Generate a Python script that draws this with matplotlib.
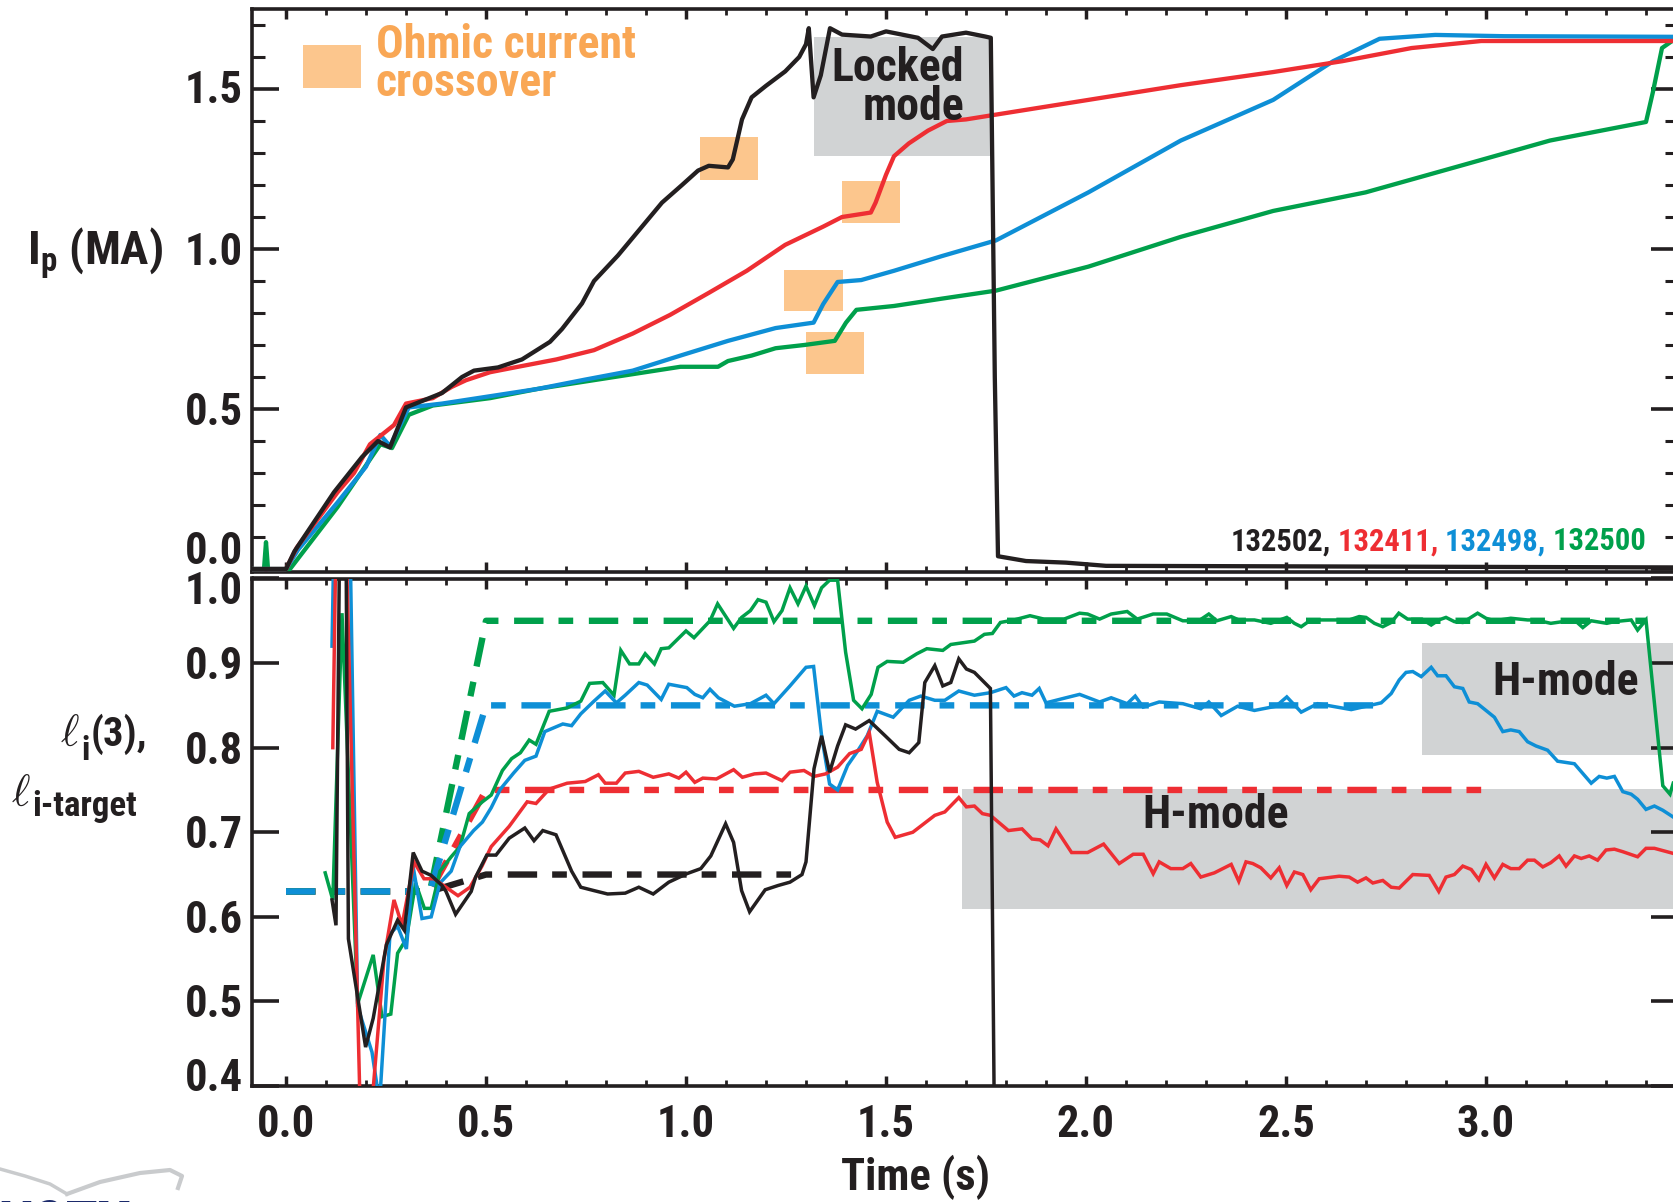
import matplotlib
matplotlib.use("Agg")
import matplotlib.pyplot as plt
import matplotlib.transforms as mtransforms
from matplotlib import font_manager as fm
from matplotlib.patches import Rectangle
from matplotlib.ticker import MultipleLocator, FixedLocator

# ---------------------------------------------------------------- fonts
# Prefer a bold condensed sans face for the whole figure.
CONDENSED = {"condensed", "semi-condensed", "extra-condensed", "ultra-condensed"}


def _weight(f):
    w = f.weight
    if isinstance(w, str):
        w = fm.weight_dict.get(w, 400)
    return w


def pick_condensed():
    cands = [f for f in fm.fontManager.ttflist
             if _weight(f) >= 600 and f.style == "normal"
             and (f.stretch in CONDENSED or "Narrow" in f.name or "Condensed" in f.name)]
    order = ["Liberation Sans Narrow", "Roboto Condensed", "Open Sans Condensed",
             "Noto Sans Condensed", "Noto Sans", "Open Sans", "Roboto", "DejaVu Sans",
             "Inter", "Lato"]
    for name in order:
        for f in cands:
            if f.name == name:
                return f.name, (f.stretch if f.stretch in CONDENSED else "condensed")
    if cands:
        f = cands[0]
        return f.name, (f.stretch if f.stretch in CONDENSED else "condensed")
    return "Liberation Sans", "normal"


BASE, STRETCH = pick_condensed()
plt.rcParams["font.family"] = [BASE, "DejaVu Sans"]
plt.rcParams["font.stretch"] = STRETCH
plt.rcParams["font.weight"] = "bold"
plt.rcParams["mathtext.fontset"] = "custom"
plt.rcParams["mathtext.rm"] = f"{BASE}:weight=bold:stretch={STRETCH}"
plt.rcParams["mathtext.bf"] = f"{BASE}:weight=bold:stretch={STRETCH}"
plt.rcParams["mathtext.it"] = f"{BASE}:style=italic:stretch={STRETCH}"
plt.rcParams["mathtext.fallback"] = "cm"

# ---------------------------------------------------------------- colours
C_BLACK = "#231F20"
C_RED = "#EE2E33"
C_BLUE = "#0E8FD6"
C_GREEN = "#00A04B"
C_ORANGE_TXT = "#F9A755"
C_ORANGE_BOX = "#FCC68D"
C_GRAY_BOX = "#D1D3D4"

# ---------------------------------------------------------------- data
shots = ["132502", "132411", "132498", "132500"]
shot_colors = [C_BLACK, C_RED, C_BLUE, C_GREEN]

# Plasma current Ip (MA) vs time (s)
ip_t_132502 = [-0.085, 0.0, 0.021, 0.045, 0.12, 0.19, 0.23, 0.26, 0.30, 0.33, 0.39, 0.44,
               0.47, 0.53, 0.59, 0.66, 0.69, 0.74, 0.77, 0.83, 0.89, 0.94, 0.99, 1.03,
               1.057, 1.105, 1.117, 1.14, 1.164, 1.20, 1.248, 1.283, 1.30, 1.307, 1.319,
               1.337, 1.36, 1.39, 1.462, 1.50, 1.58, 1.617, 1.64, 1.70, 1.748, 1.762,
               1.772, 1.78, 1.85, 1.95, 2.05, 3.48]
ip_v_132502 = [0.0, 0.0, 0.055, 0.10, 0.24, 0.35, 0.40, 0.38, 0.505, 0.52, 0.55, 0.60,
               0.62, 0.63, 0.655, 0.71, 0.75, 0.83, 0.90, 0.98, 1.07, 1.145, 1.20, 1.245,
               1.26, 1.255, 1.28, 1.405, 1.474, 1.51, 1.555, 1.60, 1.64, 1.69, 1.474,
               1.543, 1.69, 1.67, 1.664, 1.68, 1.66, 1.625, 1.664, 1.676, 1.664, 1.66,
               0.60, 0.04, 0.025, 0.02, 0.01, 0.005]

ip_t_132411 = [-0.085, 0.0, 0.027, 0.129, 0.17, 0.21, 0.27, 0.30, 0.367, 0.414, 0.45,
               0.51, 0.58, 0.676, 0.77, 0.867, 0.96, 1.057, 1.152, 1.248, 1.343, 1.39,
               1.462, 1.474, 1.50, 1.52, 1.557, 1.605, 1.652, 1.70, 1.775, 2.006, 2.237,
               2.468, 2.641, 2.814, 2.988, 3.16, 3.48]
ip_v_132411 = [0.0, 0.0, 0.067, 0.24, 0.30, 0.39, 0.45, 0.517, 0.534, 0.569, 0.59,
               0.615, 0.632, 0.655, 0.684, 0.736, 0.794, 0.863, 0.932, 1.013, 1.07, 1.10,
               1.114, 1.145, 1.232, 1.29, 1.33, 1.37, 1.40, 1.405, 1.42, 1.466, 1.512,
               1.553, 1.587, 1.628, 1.65, 1.65, 1.65]

ip_t_132498 = [-0.085, 0.0, 0.03, 0.13, 0.20, 0.236, 0.26, 0.307, 0.39, 0.51, 0.63,
               0.748, 0.867, 0.986, 1.105, 1.224, 1.319, 1.343, 1.379, 1.438, 1.52, 1.64,
               1.775, 2.006, 2.237, 2.468, 2.618, 2.734, 2.873, 3.046, 3.48]
ip_v_132498 = [0.0, 0.0, 0.06, 0.21, 0.32, 0.419, 0.384, 0.505, 0.517, 0.54, 0.563,
               0.592, 0.62, 0.667, 0.713, 0.753, 0.77, 0.828, 0.897, 0.903, 0.932, 0.978,
               1.027, 1.177, 1.339, 1.466, 1.587, 1.657, 1.669, 1.665, 1.663]

ip_t_132500 = [-0.085, -0.055, -0.05, -0.045, 0.0, 0.01, 0.129, 0.236, 0.265, 0.307,
               0.367, 0.51, 0.63, 0.748, 0.867, 0.986, 1.08, 1.105, 1.164, 1.224, 1.295,
               1.372, 1.40, 1.426, 1.52, 1.64, 1.775, 2.006, 2.237, 2.468, 2.699, 2.93,
               3.16, 3.40, 3.417, 3.44, 3.48]
ip_v_132500 = [0.0, 0.0, 0.084, 0.0, 0.0, 0.0, 0.194, 0.39, 0.378, 0.482, 0.511, 0.534,
               0.563, 0.586, 0.609, 0.632, 0.632, 0.65, 0.667, 0.69, 0.70, 0.713, 0.77,
               0.81, 0.822, 0.845, 0.87, 0.945, 1.038, 1.119, 1.177, 1.258, 1.339, 1.397,
               1.489, 1.628, 1.663]

# Internal inductance li(3) vs time (s)
li_t_132502 = [0.115, 0.125, 0.134, 0.15, 0.156, 0.199, 0.218, 0.251, 0.279, 0.296, 0.318,
               0.34, 0.363, 0.39, 0.40, 0.424, 0.463, 0.474, 0.502, 0.525, 0.558, 0.597,
               0.62, 0.642, 0.675, 0.714, 0.737, 0.77, 0.804, 0.848, 0.882, 0.918, 0.957,
               1.002, 1.037, 1.062, 1.099, 1.119, 1.139, 1.159, 1.198, 1.23, 1.26, 1.29,
               1.30, 1.32, 1.339, 1.359, 1.379, 1.399, 1.424, 1.458, 1.498, 1.533, 1.558,
               1.582, 1.597, 1.622, 1.642, 1.662, 1.682, 1.701, 1.721, 1.761, 1.772]
li_v_132502 = [0.62, 0.59, 1.05, 1.05, 0.574, 0.446, 0.48, 0.567, 0.596, 0.584, 0.676,
               0.654, 0.649, 0.637, 0.63, 0.603, 0.63, 0.647, 0.673, 0.673, 0.693, 0.705,
               0.69, 0.702, 0.697, 0.654, 0.635, 0.631, 0.627, 0.628, 0.635, 0.627, 0.641,
               0.651, 0.657, 0.672, 0.71, 0.688, 0.631, 0.606, 0.632, 0.637, 0.641, 0.65,
               0.665, 0.775, 0.814, 0.771, 0.802, 0.827, 0.822, 0.832, 0.814, 0.798, 0.794,
               0.806, 0.877, 0.897, 0.873, 0.877, 0.905, 0.893, 0.889, 0.87, 0.30]

li_t_132411 = [0.117, 0.125, 0.15, 0.185, 0.215, 0.245, 0.27, 0.29, 0.32, 0.345, 0.37, 0.40,
               0.43, 0.46, 0.49, 0.513, 0.558, 0.603, 0.625, 0.658, 0.703, 0.748, 0.781,
               0.798, 0.826, 0.848, 0.882, 0.918, 0.957, 0.982, 1.0, 1.022, 1.042, 1.076,
               1.119, 1.141, 1.171, 1.20, 1.24, 1.26, 1.295, 1.32, 1.349, 1.379, 1.409,
               1.438, 1.458, 1.478, 1.503, 1.523, 1.567, 1.622, 1.647, 1.682, 1.701, 1.721,
               1.741, 1.761, 1.806, 1.84, 1.865, 1.885, 1.905, 1.925, 1.964, 2.004, 2.044,
               2.083, 2.118, 2.143, 2.168, 2.183, 2.212, 2.242, 2.262, 2.287, 2.321, 2.363,
               2.382, 2.40, 2.417, 2.437, 2.462, 2.483, 2.502, 2.521, 2.542, 2.562, 2.583,
               2.633, 2.658, 2.679, 2.70, 2.717, 2.742, 2.763, 2.783, 2.817, 2.858, 2.882,
               2.90, 2.921, 2.942, 2.963, 2.982, 3.0, 3.021, 3.042, 3.062, 3.083, 3.104,
               3.121, 3.142, 3.162, 3.183, 3.20, 3.221, 3.238, 3.258, 3.279, 3.30, 3.321,
               3.342, 3.379, 3.40, 3.421, 3.468]
li_v_132411 = [0.80, 1.05, 1.05, 0.38, 0.38, 0.55, 0.62, 0.59, 0.665, 0.645, 0.645, 0.635,
               0.625, 0.635, 0.66, 0.683, 0.707, 0.736, 0.734, 0.751, 0.758, 0.76, 0.768,
               0.758, 0.758, 0.77, 0.772, 0.765, 0.769, 0.764, 0.771, 0.759, 0.764, 0.763,
               0.774, 0.765, 0.769, 0.77, 0.761, 0.771, 0.773, 0.766, 0.769, 0.777, 0.793,
               0.798, 0.818, 0.759, 0.712, 0.694, 0.70, 0.72, 0.724, 0.741, 0.73, 0.731,
               0.722, 0.72, 0.702, 0.704, 0.692, 0.691, 0.684, 0.704, 0.676, 0.676, 0.686,
               0.663, 0.674, 0.674, 0.651, 0.665, 0.657, 0.657, 0.663, 0.647, 0.652, 0.662,
               0.642, 0.665, 0.663, 0.658, 0.646, 0.658, 0.637, 0.653, 0.65, 0.632, 0.645,
               0.648, 0.647, 0.641, 0.646, 0.64, 0.643, 0.635, 0.634, 0.65, 0.649, 0.630,
               0.647, 0.65, 0.66, 0.656, 0.644, 0.662, 0.646, 0.662, 0.657, 0.657, 0.667,
               0.667, 0.659, 0.664, 0.672, 0.66, 0.672, 0.669, 0.672, 0.667, 0.679, 0.68,
               0.677, 0.671, 0.681, 0.681, 0.675]

li_t_132498 = [0.115, 0.12, 0.16, 0.179, 0.215, 0.234, 0.26, 0.279, 0.301, 0.318, 0.34,
               0.363, 0.385, 0.413, 0.435, 0.469, 0.491, 0.513, 0.536, 0.569, 0.597, 0.625,
               0.647, 0.692, 0.714, 0.737, 0.77, 0.798, 0.826, 0.848, 0.882, 0.903, 0.938,
               0.957, 1.002, 1.022, 1.042, 1.06, 1.081, 1.121, 1.161, 1.20, 1.22, 1.26,
               1.30, 1.319, 1.339, 1.359, 1.379, 1.404, 1.429, 1.453, 1.478, 1.518, 1.558,
               1.587, 1.622, 1.647, 1.682, 1.721, 1.761, 1.80, 1.82, 1.84, 1.865, 1.883,
               1.90, 1.95, 1.984, 2.034, 2.063, 2.103, 2.123, 2.143, 2.183, 2.242, 2.287,
               2.307, 2.338, 2.379, 2.421, 2.475, 2.502, 2.538, 2.579, 2.663, 2.738, 2.763,
               2.783, 2.80, 2.817, 2.838, 2.863, 2.879, 2.90, 2.921, 2.942, 2.958, 2.979,
               3.021, 3.042, 3.062, 3.083, 3.104, 3.125, 3.154, 3.179, 3.221, 3.263, 3.283,
               3.302, 3.321, 3.342, 3.363, 3.379, 3.40, 3.421, 3.442, 3.468]
li_v_132498 = [0.92, 1.05, 1.05, 0.494, 0.44, 0.38, 0.58, 0.589, 0.562, 0.659, 0.598,
               0.60, 0.64, 0.654, 0.683, 0.702, 0.712, 0.729, 0.751, 0.77, 0.785, 0.79,
               0.819, 0.828, 0.826, 0.84, 0.855, 0.867, 0.853, 0.862, 0.877, 0.874, 0.857,
               0.875, 0.871, 0.863, 0.859, 0.869, 0.859, 0.849, 0.852, 0.862, 0.852, 0.873,
               0.895, 0.896, 0.814, 0.757, 0.75, 0.779, 0.796, 0.814, 0.843, 0.836, 0.856,
               0.861, 0.856, 0.856, 0.867, 0.862, 0.865, 0.871, 0.861, 0.865, 0.862, 0.87,
               0.853, 0.859, 0.863, 0.854, 0.859, 0.852, 0.861, 0.848, 0.854, 0.852, 0.846,
               0.854, 0.838, 0.849, 0.844, 0.849, 0.86, 0.842, 0.852, 0.845, 0.853, 0.864,
               0.88, 0.889, 0.89, 0.884, 0.895, 0.885, 0.885, 0.872, 0.87, 0.854, 0.852,
               0.836, 0.819, 0.821, 0.819, 0.807, 0.802, 0.797, 0.784, 0.781, 0.758, 0.766,
               0.764, 0.766, 0.748, 0.745, 0.739, 0.727, 0.731, 0.726, 0.718]

li_t_132500 = [0.098, 0.117, 0.14, 0.179, 0.218, 0.24, 0.262, 0.279, 0.301, 0.324, 0.346,
               0.363, 0.385, 0.413, 0.435, 0.458, 0.491, 0.513, 0.541, 0.564, 0.586, 0.608,
               0.625, 0.658, 0.703, 0.737, 0.759, 0.792, 0.82, 0.837, 0.859, 0.882, 0.898,
               0.921, 0.938, 0.957, 1.0, 1.02, 1.06, 1.079, 1.119, 1.139, 1.161, 1.18,
               1.20, 1.22, 1.24, 1.26, 1.28, 1.30, 1.321, 1.339, 1.359, 1.379, 1.399, 1.419,
               1.44, 1.463, 1.48, 1.503, 1.543, 1.577, 1.602, 1.642, 1.662, 1.721, 1.746,
               1.766, 1.786, 1.82, 1.86, 1.895, 1.945, 1.984, 2.004, 2.034, 2.063, 2.103,
               2.128, 2.168, 2.202, 2.242, 2.282, 2.307, 2.327, 2.363, 2.382, 2.421, 2.462,
               2.502, 2.521, 2.538, 2.562, 2.617, 2.658, 2.683, 2.70, 2.721, 2.742, 2.763,
               2.782, 2.804, 2.84, 2.863, 2.882, 2.90, 2.921, 2.942, 2.979, 3.0, 3.021,
               3.062, 3.104, 3.125, 3.162, 3.221, 3.242, 3.263, 3.302, 3.321, 3.363, 3.379,
               3.40, 3.442, 3.46, 3.468]
li_v_132500 = [0.652, 0.62, 0.959, 0.497, 0.555, 0.482, 0.485, 0.557, 0.574, 0.64, 0.61,
               0.61, 0.654, 0.671, 0.683, 0.722, 0.736, 0.744, 0.773, 0.787, 0.794, 0.809,
               0.804, 0.843, 0.847, 0.855, 0.876, 0.877, 0.862, 0.915, 0.899, 0.899, 0.911,
               0.899, 0.917, 0.918, 0.938, 0.93, 0.95, 0.97, 0.941, 0.954, 0.962, 0.975,
               0.972, 0.949, 0.962, 0.989, 0.97, 0.991, 0.968, 0.989, 0.998, 0.998, 0.913,
               0.856, 0.846, 0.863, 0.895, 0.902, 0.901, 0.911, 0.917, 0.915, 0.922, 0.926,
               0.934, 0.935, 0.948, 0.951, 0.956, 0.952, 0.952, 0.959, 0.958, 0.952, 0.958,
               0.961, 0.952, 0.958, 0.958, 0.95, 0.95, 0.958, 0.95, 0.955, 0.951, 0.951,
               0.947, 0.954, 0.947, 0.943, 0.951, 0.951, 0.951, 0.955, 0.954, 0.947, 0.943,
               0.948, 0.959, 0.952, 0.952, 0.945, 0.951, 0.954, 0.949, 0.948, 0.959, 0.953,
               0.95, 0.953, 0.951, 0.951, 0.947, 0.951, 0.942, 0.95, 0.947, 0.949, 0.951,
               0.939, 0.951, 0.755, 0.745, 0.758]

# li target waveforms (dashed)
tgt_t_132502 = [0.0, 0.36, 0.50, 1.30]
tgt_v_132502 = [0.63, 0.63, 0.65, 0.65]
tgt_t_132411 = [0.0, 0.36, 0.50, 3.00]
tgt_v_132411 = [0.63, 0.63, 0.75, 0.75]
tgt_t_132498 = [0.0, 0.36, 0.50, 2.75]
tgt_v_132498 = [0.63, 0.63, 0.85, 0.85]
tgt_t_132500 = [0.0, 0.36, 0.50, 3.40]
tgt_v_132500 = [0.63, 0.63, 0.95, 0.95]

# Ohmic current crossover windows: (t0, t1, Ip0, Ip1)
crossover_boxes = [(1.036, 1.179, 1.217, 1.349),
                   (1.390, 1.536, 1.082, 1.212),
                   (1.246, 1.392, 0.805, 0.935),
                   (1.301, 1.446, 0.609, 0.742)]
crossover_key = (0.043, 0.188, 1.503, 1.636)
locked_mode_box = (1.319, 1.762, 1.292, 1.662)
hmode_boxes = [(1.689, 3.48, 0.609, 0.751),
               (2.840, 3.48, 0.791, 0.924)]

ip_ticks = [0.0, 0.5, 1.0, 1.5]
li_ticks = [0.4, 0.5, 0.6, 0.7, 0.8, 0.9, 1.0]
time_ticks = [0.0, 0.5, 1.0, 1.5, 2.0, 2.5, 3.0]

# ---------------------------------------------------------------- figure
W, H = 1674, 1202
fig = plt.figure(figsize=(W / 100, H / 100), dpi=100)


def px_rect(l, t, r, b):
    return [l / W, 1 - b / H, (r - l) / W, (b - t) / H]


def px_off(dx, dy):
    return mtransforms.ScaledTranslation(dx / 100, dy / 100, fig.dpi_scale_trans)


ax1 = fig.add_axes(px_rect(252, 9, 1678, 571.6))
ax2 = fig.add_axes(px_rect(252, 578.5, 1678, 1086))

XLIM = (-0.085, 3.48)
for ax in (ax1, ax2):
    ax.set_xlim(*XLIM)
    for sp in ax.spines.values():
        sp.set_linewidth(2.6)
        sp.set_color(C_BLACK)
    ax.xaxis.set_major_locator(MultipleLocator(0.5))
    ax.xaxis.set_minor_locator(MultipleLocator(0.1))
    ax.tick_params(axis="x", which="major", direction="in", length=7.5, width=2.5,
                   top=True, bottom=True, labelbottom=False, color=C_BLACK)
    ax.tick_params(axis="x", which="minor", direction="in", length=4, width=2.0,
                   top=True, bottom=True, color=C_BLACK)
    ax.tick_params(axis="y", which="major", direction="in", length=19.5, width=2.6,
                   left=True, right=True, labelleft=False, color=C_BLACK)
    ax.tick_params(axis="y", which="minor", direction="in", length=9.5, width=2.2,
                   left=True, right=True, color=C_BLACK)

ax1.set_ylim(-0.008, 1.75)
ax1.yaxis.set_major_locator(FixedLocator(ip_ticks))
ax1.yaxis.set_minor_locator(MultipleLocator(0.1))
ax2.set_ylim(0.4, 1.0)
ax2.yaxis.set_major_locator(FixedLocator(li_ticks))
ax2.yaxis.set_minor_locator(FixedLocator([]))

TICK_FS = 32


def y_tick_labels(ax, values, shifts):
    trans = mtransforms.blended_transform_factory(ax.transAxes, ax.transData)
    for v, dy in zip(values, shifts):
        ax.text(0, v, f"{v:.1f}", transform=trans + px_off(-9, -16 + dy),
                ha="right", va="baseline", fontsize=TICK_FS, fontweight="bold",
                color=C_BLACK, clip_on=False)


# end labels are nudged inward so the two panels' labels do not collide
y_tick_labels(ax1, ip_ticks, [21, 0, 0, 2])
y_tick_labels(ax2, li_ticks, [11, 0, 0, 0, 0, 0, -10])

xtrans = mtransforms.blended_transform_factory(ax2.transData, ax2.transAxes)
for v in time_ticks:
    ax2.text(v, 0, f"{v:.1f}", transform=xtrans + px_off(0, -51), ha="center",
             va="baseline", fontsize=TICK_FS, fontweight="bold", color=C_BLACK,
             clip_on=False)

# ---------------------------------------------------------------- top panel
for (t0, t1, y0, y1) in crossover_boxes:
    ax1.add_patch(Rectangle((t0, y0), t1 - t0, y1 - y0, facecolor=C_ORANGE_BOX,
                            edgecolor="none", zorder=1))
t0, t1, y0, y1 = locked_mode_box
ax1.add_patch(Rectangle((t0, y0), t1 - t0, y1 - y0, facecolor=C_GRAY_BOX,
                        edgecolor="none", zorder=0.8))
t0, t1, y0, y1 = crossover_key
ax1.add_patch(Rectangle((t0, y0), t1 - t0, y1 - y0, facecolor=C_ORANGE_BOX,
                        edgecolor="none", zorder=1))

ip_series = [(ip_t_132500, ip_v_132500, C_GREEN), (ip_t_132498, ip_v_132498, C_BLUE),
             (ip_t_132411, ip_v_132411, C_RED), (ip_t_132502, ip_v_132502, C_BLACK)]
for t, v, c in ip_series:
    ax1.plot(t, v, color=c, lw=3.1, solid_joinstyle="round", zorder=3)

ax1.text(0.224, 1.578, "Ohmic current\ncrossover", color=C_ORANGE_TXT,
         fontsize=33, fontweight="bold", ha="left", va="center", linespacing=0.82,
         zorder=5)
ax1.text(1.695, 1.505, "Locked\nmode", color=C_BLACK, fontsize=33,
         fontweight="bold", ha="right", va="center", linespacing=0.88, zorder=5)

# shot numbers, coloured per trace
prev = ax1.text(2.3625, 0.04, shots[0] + ",", color=shot_colors[0], fontsize=22,
                fontweight="bold", ha="left", va="bottom", zorder=6)
for i in range(1, len(shots)):
    label = " " + shots[i] + ("," if i < len(shots) - 1 else "")
    prev = ax1.annotate(label, xy=(1, 0), xycoords=prev, ha="left", va="bottom",
                        color=shot_colors[i], fontsize=22, fontweight="bold", zorder=6)

# ---------------------------------------------------------------- bottom panel
for (t0, t1, y0, y1) in hmode_boxes:
    ax2.add_patch(Rectangle((t0, y0), t1 - t0, y1 - y0, facecolor=C_GRAY_BOX,
                            edgecolor="none", zorder=0.8))
ax2.text(2.324, 0.72, "H-mode", color=C_BLACK, fontsize=33, fontweight="bold",
         ha="center", va="center", zorder=5)
ax2.text(3.198, 0.878, "H-mode", color=C_BLACK, fontsize=33, fontweight="bold",
         ha="center", va="center", zorder=5)

DASH = (4.6, 2.35, 2.3, 2.45)
tgt_series = [(tgt_t_132502, tgt_v_132502, C_BLACK), (tgt_t_132411, tgt_v_132411, C_RED),
              (tgt_t_132500, tgt_v_132500, C_GREEN), (tgt_t_132498, tgt_v_132498, C_BLUE)]
for t, v, c in tgt_series:
    ax2.plot(t, v, color=c, lw=4.6, dashes=DASH, dash_capstyle="butt", zorder=2)

li_series = [(li_t_132500, li_v_132500, C_GREEN), (li_t_132498, li_v_132498, C_BLUE),
             (li_t_132411, li_v_132411, C_RED), (li_t_132502, li_v_132502, C_BLACK)]
for t, v, c in li_series:
    ax2.plot(t, v, color=c, lw=2.5, solid_joinstyle="miter", zorder=3)

# ---------------------------------------------------------------- axis titles
fig.text(27 / W, 1 - 266 / H, r"I$_{\mathbf{p}}$ (MA)", fontsize=34, fontweight="bold",
         ha="left", va="baseline", color=C_BLACK)

ell1 = fig.text(60 / W, 1 - 746 / H, r"$\ell$", fontsize=32, ha="left", va="baseline",
                color=C_BLACK, math_fontfamily="cm")
s1 = ax1.annotate("i", xy=(1, 0), xycoords=ell1, xytext=(1, -9),
                  textcoords="offset points", ha="left", va="bottom", fontsize=24,
                  fontweight="bold", color=C_BLACK, annotation_clip=False)
ax1.annotate("(3),", xy=(1, 0), xycoords=s1, xytext=(1, 9),
             textcoords="offset points", ha="left", va="bottom", fontsize=29,
             fontweight="bold", color=C_BLACK, annotation_clip=False)

ell2 = fig.text(11 / W, 1 - 806 / H, r"$\ell$", fontsize=32, ha="left", va="baseline",
                color=C_BLACK, math_fontfamily="cm")
ax1.annotate("i-target", xy=(1, 0), xycoords=ell2, xytext=(1, -6),
             textcoords="offset points", ha="left", va="bottom", fontsize=25,
             fontweight="bold", color=C_BLACK, annotation_clip=False)

fig.text(916 / W, 1 - 1190 / H, "Time (s)", fontsize=32, fontweight="bold",
         ha="center", va="baseline", color=C_BLACK)

# ---------------------------------------------------------------- corner logo
logo = fig.add_axes([0, 0, 200 / W, 40 / H])
logo.set_xlim(0, 200)
logo.set_ylim(40, 0)
logo.axis("off")
logo.plot([0, 25, 50, 67], [7, 14, 22, 32], color="#C9CBCD", lw=2.5)
logo.plot([67, 100, 140, 170, 182, 178], [32, 20, 11, 8, 14, 26], color="#C9CBCD",
          lw=3.0)
logo.text(-6, 35, "NSTX", color="#1B2A6B", fontsize=44, fontweight="bold",
          style="italic", ha="left", va="top", clip_on=True)

fig.savefig("out.png", dpi=100)
